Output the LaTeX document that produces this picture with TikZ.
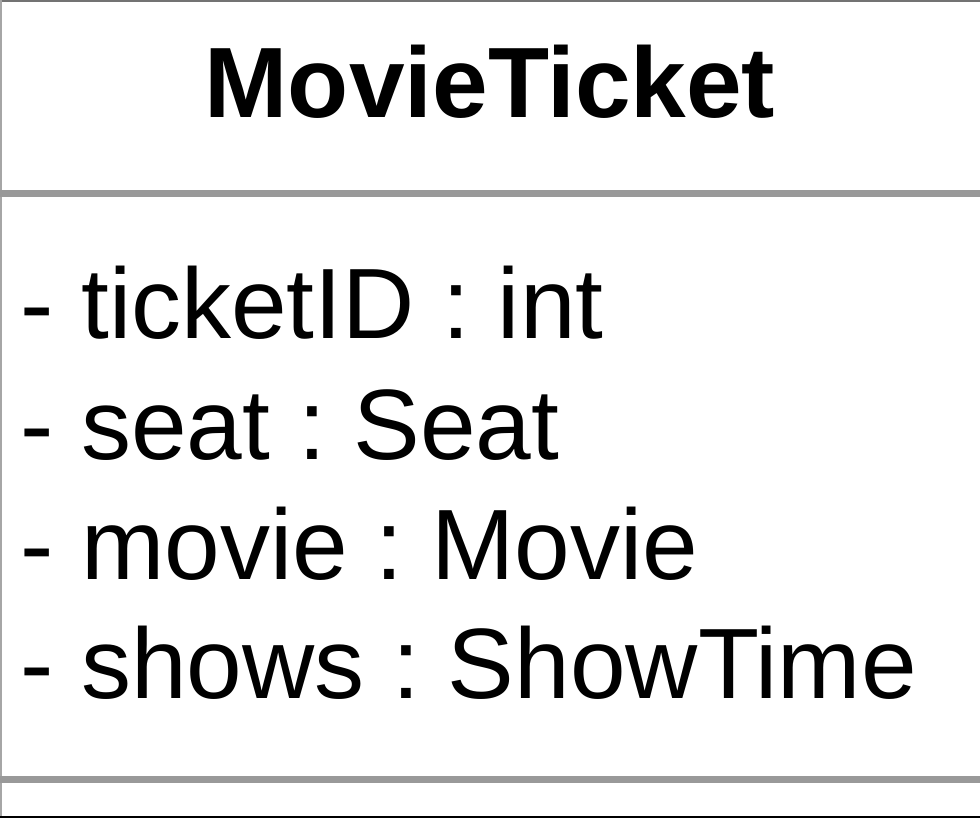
\documentclass[tikz,border=0pt]{standalone}
\usepackage{fontspec}
\setmainfont{Liberation Sans}
\usepackage{tikz}
\frenchspacing

\begin{document}
\begin{tikzpicture}[x=1pt,y=1pt,
    attr/.style={anchor=base west,inner sep=0pt,font=\fontsize{100}{120}\selectfont},
    sep/.style={draw=black!40,line width=7pt}]
    \useasboundingbox (0,0) rectangle (980,-818);
    \fill[white] (0,0) rectangle (980,-818);
    \node[anchor=base,inner sep=0pt,font=\fontsize{100}{120}\selectfont\bfseries] (title) at (490,-118) {MovieTicket};
    \node[attr] (ticketid) at (20,-338) {- ticketID : int};
    \node[attr] (seat) at (20,-459) {- seat : Seat};
    \node[attr] (movie) at (20,-579) {- movie : Movie};
    \node[attr] (shows) at (20,-698) {- shows : ShowTime};
    \draw[black!55,line width=2pt] (0,-1) -- (980,-1);
    \draw[black!35,line width=2pt] (1,0) -- (1,-818);
    \draw[sep] (0,-194) -- (980,-194);
    \draw[sep] (0,-779.5) -- (980,-779.5);
    \draw[black,line width=2.5pt] (0,-817) -- (980,-817);
  \end{tikzpicture}
\end{document}
